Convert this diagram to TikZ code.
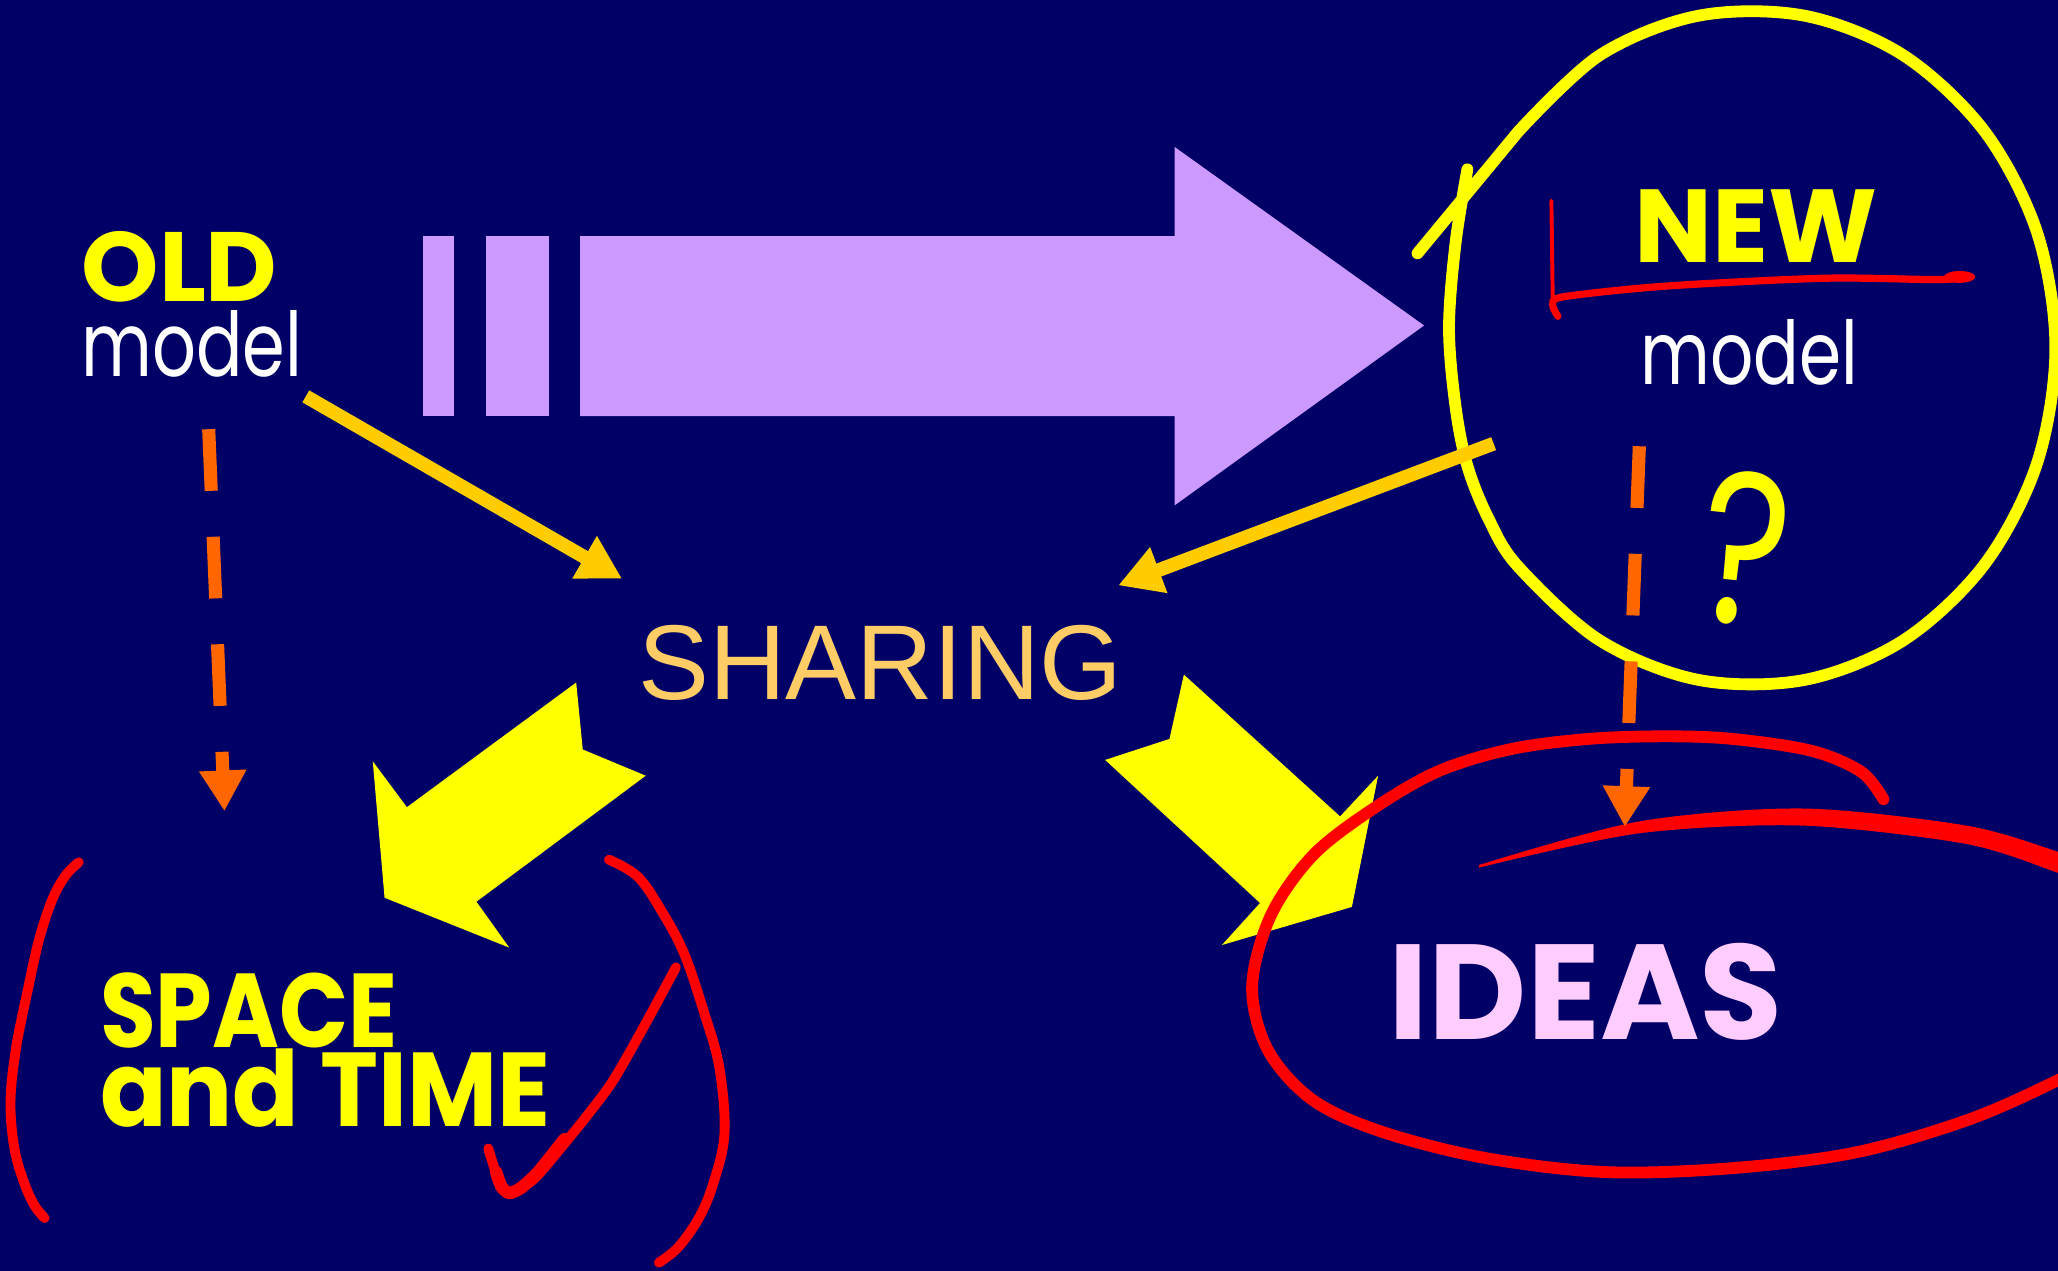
\documentclass[tikz,border=0pt]{standalone}
\usepackage{fontspec}
\setmainfont{Poppins}
\newfontfamily\arialfont{Liberation Sans}
\usetikzlibrary{arrows.meta}
\definecolor{bg}{HTML}{000066}
\definecolor{lilac}{HTML}{CC99FF}
\definecolor{yel}{HTML}{FFFF00}
\definecolor{gold}{HTML}{FFCC00}
\definecolor{orng}{HTML}{FF6600}
\definecolor{redd}{HTML}{FF0000}
\definecolor{sharecol}{HTML}{FFCC66}
\definecolor{pink}{HTML}{FFCCFF}
\tikzset{
  txt/.style={inner sep=0pt, anchor=base west},
  goldarrow/.style={draw=gold, line width=10.5pt, -{Triangle[length=33pt,width=35pt]}},
  orangedash/.style={draw=orng, line width=10pt, dash pattern=on 47pt off 35pt, -{Triangle[length=31pt,width=34pt]}},
  redpen/.style={draw=redd, line width=7.5pt, line cap=round, line join=round},
  bigyellow/.style={fill=yel},
}
\begin{document}
\begin{tikzpicture}[x=1pt,y=-1pt]
\useasboundingbox (0,0) rectangle (1568,968);
\fill[bg] (0,0) rectangle (1568,968);

% purple big arrow with bars
\fill[lilac] (322,180) rectangle (346,317);
\fill[lilac] (370,180) rectangle (418,317);
\fill[lilac] (442,180) -- (895,180) -- (895,112) -- (1085,248) -- (895,385) -- (895,317) -- (442,317) -- cycle;

% big yellow arrows
\fill[bigyellow] (439,520) -- (310,615) -- (284,580) -- (293,684) -- (388,722) -- (363,687) -- (492,591) -- (444,571) -- cycle;
\fill[bigyellow] (902,514) -- (1021,622) -- (1050,591) -- (1030,691) -- (931,720) -- (960,688) -- (842,579) -- (891,563) -- cycle;

% yellow hand-drawn circle
\draw[yel, line width=9pt, line cap=round, line join=round] plot[smooth, tension=0.55] coordinates {
 (1118,129) (1109,185) (1104,250) (1109,310) (1118,355) (1134,395) (1157,432) (1219,488)
 (1294,518) (1375,518) (1450,488) (1512,430) (1552,353) (1566,265) (1552,177) (1512,100)
 (1450,42) (1375,12) (1294,12) (1219,42) (1157,100)} -- (1080,193);

% texts
\node[txt, text=yel] (old) at (62,230) {\fontsize{75}{75}\selectfont\bfseries OLD};
\node[txt, text=white] (oldmodel) at (62,287) {\fontsize{68}{68}\selectfont\scalebox{0.77}[1]{model}};
\node[txt, text=yel] (new) at (1245,200) {\fontsize{79}{79}\selectfont\bfseries NEW};
\node[txt, text=white] (newmodel) at (1250,293) {\fontsize{67}{67}\selectfont\scalebox{0.77}[1]{model}};
\node[txt, text=yel] (space) at (76,798) {\fontsize{80}{80}\selectfont\bfseries\scalebox{0.865}[1]{SPACE}};
\node[txt, text=yel] (time) at (76,858) {\fontsize{80}{80}\selectfont\bfseries\scalebox{0.935}[1]{and TIME}};
\node[txt, text=pink] (ideas) at (1058,792) {\fontsize{103}{103}\selectfont\bfseries IDEAS};
\node[txt, text=sharecol] (sharing) at (486,533) {\fontsize{81}{81}\selectfont\arialfont SHARING};
\node[txt, text=yel, rotate=-6] (q) at (1290,472) {\fontsize{165}{165}\selectfont\scalebox{0.78}[1]{?}};

% connector coordinates
\coordinate (a1s) at (233,302);
\coordinate (a1e) at (474,441);
\coordinate (a2s) at (1138,338);
\coordinate (a2e) at (852,446);
\coordinate (d1s) at (159,327);
\coordinate (d1e) at (171,618);
\coordinate (d2s) at (1249,340);
\coordinate (d2e) at (1238,630);

\draw[goldarrow] (a1s) -- (a1e);
\draw[goldarrow] (a2s) -- (a2e);

% red marks
\draw[redpen] plot[smooth, tension=0.6] coordinates {(60,657) (50,667) (40,685) (30,715) (21,755) (12,800) (8,840) (11,875) (18,900) (26,918) (34,928)};
\draw[redpen] plot[smooth, tension=0.6] coordinates {(464,655) (486,668) (504,694) (521,726) (536,770) (548,813) (552,863) (544,900) (533,927) (517,950) (502,962)};
\draw[redpen] plot[smooth, tension=0.4] coordinates {(372,875) (380,900) (387,909) (397,905) (412,893) (466,825) (515,737)};
\draw[redpen, line width=9.5pt] plot[smooth, tension=0.4] coordinates {(378,893) (382,904) (388,909) (397,905) (410,893) (430,868)};
% underline of NEW
\draw[redd, line width=3pt, line cap=round] (1182,153) -- (1183,226);
\draw[redpen, line width=5.5pt] plot[smooth, tension=0.5] coordinates {(1187,241) (1183,232) (1192,226) (1269,218) (1390,212) (1476,213) (1500,211)};
\fill[redd] (1493,211) ellipse (12pt and 4.5pt);
% loop round IDEAS
\draw[redpen, line width=9pt] plot[smooth, tension=0.55] coordinates {
 (1435,609) (1418,588) (1380,572) (1320,563) (1269,561) (1210,563) (1150,571) (1095,588)
 (1045,617) (1000,652) (968,698) (954,752) (966,800) (1000,838) (1052,862) (1130,882)
 (1223,893) (1320,890) (1414,878) (1500,853) (1568,823) (1620,795)};
\fill[redd] plot[smooth] coordinates {(1127,659) (1248,626) (1373,616) (1498,629) (1568,649) (1610,665)}
  -- plot[smooth] coordinates {(1610,681) (1568,665) (1498,643) (1373,629) (1248,635) (1127,661)} -- cycle;

% orange dashed arrows
\draw[orangedash] (d1s) -- (d1e);
\draw[orangedash] (d2s) -- (d2e);
\end{tikzpicture}
\end{document}
